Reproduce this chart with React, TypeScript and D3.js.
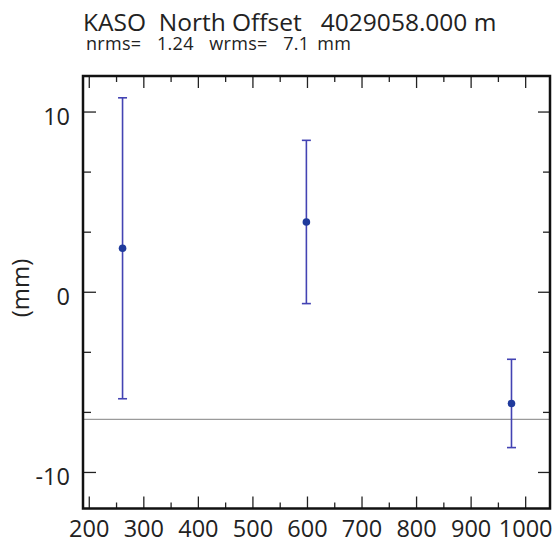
import React from "react";
import * as d3 from "d3";

const epochs = [261, 598, 974];
const offsets = [2.44, 3.9, -6.17];
const sigmas = [8.35, 4.53, 2.45];
const refLine = -7.05;
const xTickValues = [200, 300, 400, 500, 600, 700, 800, 900, 1000];
const xMinorTicks = [250, 350, 450, 550, 650, 750, 850, 950];
const yTickValues = [10, 0, -10];
const yMinorTicks = [6.667, 3.333, -3.333, -6.667];
const title = "KASO  North Offset   4029058.000 m";
const subtitle = "nrms=  1.24  wrms=  7.1 mm";
const yLabel = "(mm)";

const W = 557;
const H = 544;
const L = 83, R = 550, T = 76, B = 508.5;

export default function App() {
  const x = d3.scaleLinear().domain([188.5, 1044.6]).range([L, R]);
  const y = d3.scaleLinear().domain([-12, 12]).range([B, T]);
  const font = "'Open Sans', sans-serif";
  const lineColor = "#4343b3";
  const dotColor = "#1f3a9c";
  const capW = 4.5;
  return (
    <svg width={W} height={H} style={{ position: "absolute", left: 0, top: 0, background: "#fff" }}>
      <rect x={0} y={0} width={W} height={H} fill="#fff" />
      <text x={83} y={31} fontFamily={font} fontSize={24.5} fill="#222" style={{ whiteSpace: "pre" }}>{title}</text>
      <text x={86} y={50} fontFamily={font} fontSize={18} fill="#222" letterSpacing={0.3} wordSpacing={2.8} style={{ whiteSpace: "pre" }}>{subtitle}</text>
      <line x1={L} x2={R} y1={y(refLine)} y2={y(refLine)} stroke="#9a9a9a" strokeWidth={1.2} />
      {epochs.map((e, i) => (
        <g key={i}>
          <line x1={x(e)} x2={x(e)} y1={y(offsets[i] + sigmas[i])} y2={y(offsets[i] - sigmas[i])} stroke={lineColor} strokeWidth={1.6} />
          <line x1={x(e) - capW} x2={x(e) + capW} y1={y(offsets[i] + sigmas[i])} y2={y(offsets[i] + sigmas[i])} stroke={lineColor} strokeWidth={1.6} />
          <line x1={x(e) - capW} x2={x(e) + capW} y1={y(offsets[i] - sigmas[i])} y2={y(offsets[i] - sigmas[i])} stroke={lineColor} strokeWidth={1.6} />
          <circle cx={x(e)} cy={y(offsets[i])} r={3.8} fill={dotColor} />
        </g>
      ))}
      {xTickValues.map((v) => (
        <g key={"xt" + v}>
          <line x1={x(v)} x2={x(v)} y1={B} y2={B - 12} stroke="#222" strokeWidth={1.3} />
          <line x1={x(v)} x2={x(v)} y1={T} y2={T + 12} stroke="#222" strokeWidth={1.3} />
          <text x={x(v)} y={537} textAnchor="middle" fontFamily={font} fontSize={23.5} fill="#222">{v}</text>
        </g>
      ))}
      {xMinorTicks.map((v) => (
        <g key={"xm" + v}>
          <line x1={x(v)} x2={x(v)} y1={B} y2={B - 6} stroke="#222" strokeWidth={1.3} />
          <line x1={x(v)} x2={x(v)} y1={T} y2={T + 6} stroke="#222" strokeWidth={1.3} />
        </g>
      ))}
      {yTickValues.map((v) => (
        <g key={"yt" + v}>
          <line x1={L} x2={L + 13} y1={y(v)} y2={y(v)} stroke="#222" strokeWidth={1.3} />
          <line x1={R} x2={R - 12} y1={y(v)} y2={y(v)} stroke="#222" strokeWidth={1.3} />
          <text x={70} y={y(v) + 13} textAnchor="end" fontFamily={font} fontSize={23.5} fill="#222">{v}</text>
        </g>
      ))}
      {yMinorTicks.map((v) => (
        <g key={"ym" + v}>
          <line x1={L} x2={L + 8} y1={y(v)} y2={y(v)} stroke="#222" strokeWidth={1.3} />
          <line x1={R} x2={R - 7} y1={y(v)} y2={y(v)} stroke="#222" strokeWidth={1.3} />
        </g>
      ))}
      <text transform={`translate(29, ${288}) rotate(-90)`} textAnchor="middle" fontFamily={font} fontSize={24} fill="#222">{yLabel}</text>
      <rect x={L} y={T} width={R - L} height={B - T} fill="none" stroke="#111" strokeWidth={2.5} />
    </svg>
  );
}
